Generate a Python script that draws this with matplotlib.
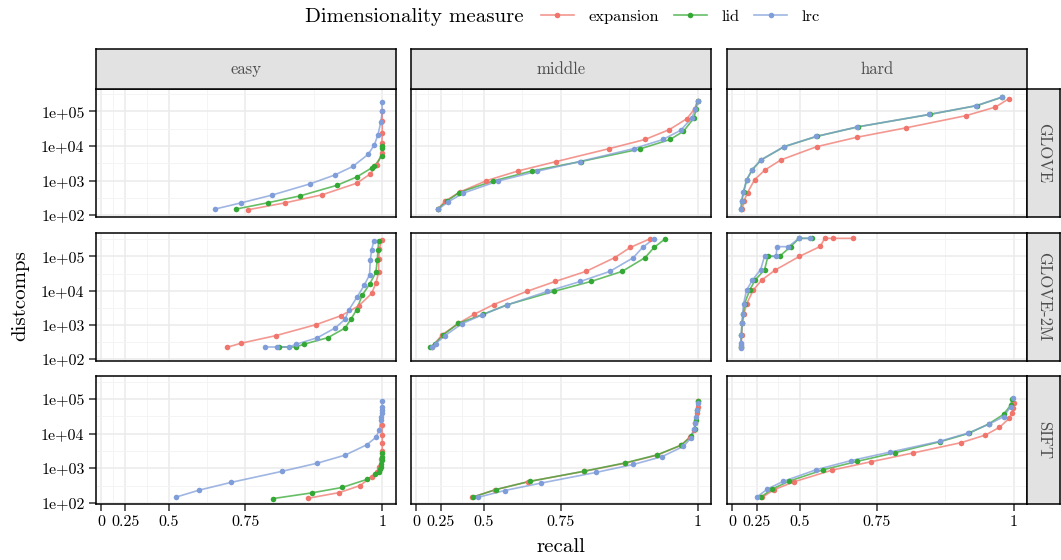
import numpy as np
import matplotlib.pyplot as plt
from matplotlib.lines import Line2D
from matplotlib.ticker import NullFormatter

plt.rcParams['font.family'] = ['cmr10', 'DejaVu Serif']
plt.rcParams['axes.formatter.use_mathtext'] = True

datasets = ['GLOVE', 'GLOVE-2M', 'SIFT']
difficulties = ['easy', 'middle', 'hard']
measures = ['expansion', 'lid', 'lrc']
colors = ['#F0756C', '#34A834', '#7F9DD9']

# (recall, distcomps) per dataset / difficulty / measure
glove_easy_expansion = ([0.757, 0.839, 0.907, 0.963, 0.983, 0.993, 0.9995, 0.9995, 1.0, 1.0, 1.0],
                        [145, 230, 390, 845, 1560, 2870, 6470, 12200, 23500, 54000, 103000])
glove_easy_lid = ([0.726, 0.802, 0.868, 0.932, 0.963, 0.985, 0.989, 0.999, 0.999, 1.0],
                  [151, 230, 365, 735, 1280, 2340, 2620, 5100, 8950, 10300])
glove_easy_lrc = ([0.667, 0.740, 0.811, 0.886, 0.928, 0.957, 0.980, 0.989, 0.994, 0.998, 1.0, 0.9995],
                  [151, 230, 383, 810, 1450, 2580, 5780, 10960, 21500, 50000, 100000, 186000])

glove_middle_expansion = ([0.228, 0.280, 0.378, 0.511, 0.628, 0.739, 0.856, 0.920, 0.959, 0.985, 0.996, 1.0],
                          [151, 251, 466, 1000, 1900, 3580, 8460, 15500, 30000, 62000, 120000, 206000])
glove_middle_lid = ([0.228, 0.297, 0.375, 0.539, 0.671, 0.797, 0.911, 0.960, 0.980, 0.995, 0.998, 1.0],
                    [151, 258, 455, 980, 1900, 3580, 8200, 15500, 26800, 65000, 117000, 206000])
glove_middle_lrc = ([0.233, 0.303, 0.398, 0.559, 0.686, 0.795, 0.901, 0.949, 0.976, 0.992, 0.997, 1.0],
                    [151, 241, 437, 980, 1860, 3580, 8460, 15500, 28700, 65000, 120000, 206000])

glove_hard_expansion = ([0.120, 0.138, 0.173, 0.234, 0.310, 0.407, 0.568, 0.698, 0.816, 0.928, 0.974, 0.993],
                        [151, 258, 455, 1070, 2030, 3980, 9600, 18000, 33500, 75500, 134000, 231000])
glove_hard_lid = ([0.108, 0.115, 0.133, 0.166, 0.214, 0.284, 0.425, 0.568, 0.700, 0.864, 0.946, 0.984],
                  [151, 258, 466, 1070, 2060, 3980, 9600, 19000, 35800, 82000, 148000, 259000])
glove_hard_lrc = ([0.106, 0.113, 0.131, 0.164, 0.212, 0.282, 0.423, 0.566, 0.699, 0.863, 0.945, 0.983],
                  [151, 258, 466, 1070, 2060, 3980, 9600, 19000, 35800, 82000, 148000, 259000])

glove2m_easy_expansion = ([0.702, 0.738, 0.819, 0.897, 0.939, 0.966, 0.985, 0.991, 0.995, 0.995, 0.996, 0.999],
                          [224, 293, 490, 1030, 1880, 3610, 8300, 16600, 34000, 85500, 167000, 293000])
glove2m_easy_lid = ([0.826, 0.860, 0.874, 0.917, 0.945, 0.954, 0.963, 0.971, 0.982, 0.991, 0.993, 0.994, 0.995],
                    [229, 229, 274, 427, 818, 1470, 2820, 7250, 15500, 34000, 78000, 156000, 287000])
glove2m_easy_lrc = ([0.795, 0.822, 0.846, 0.860, 0.899, 0.929, 0.945, 0.951, 0.964, 0.974, 0.982, 0.983, 0.985, 0.988],
                    [229, 229, 229, 274, 427, 818, 1470, 2750, 6760, 14200, 29000, 76000, 156000, 275000])

glove2m_middle_expansion = ([0.174, 0.260, 0.371, 0.455, 0.541, 0.656, 0.736, 0.808, 0.866, 0.895, 0.929],
                            [229, 513, 1120, 2050, 3950, 9500, 18600, 36500, 91500, 183000, 329000])
glove2m_middle_lid = ([0.159, 0.205, 0.269, 0.371, 0.497, 0.591, 0.732, 0.819, 0.880, 0.920, 0.935, 0.953],
                      [229, 287, 513, 1120, 2050, 3870, 9500, 18600, 36500, 91500, 183000, 329000])
glove2m_middle_lrc = ([0.181, 0.209, 0.283, 0.389, 0.491, 0.593, 0.715, 0.796, 0.857, 0.900, 0.916, 0.935],
                      [229, 287, 490, 1080, 1960, 3870, 9500, 18600, 36500, 91500, 183000, 329000])

glove2m_hard_expansion = ([0.110, 0.113, 0.120, 0.138, 0.164, 0.223, 0.287, 0.375, 0.498, 0.582, 0.597, 0.627, 0.686],
                          [224, 513, 1120, 2150, 4130, 10400, 20300, 39900, 100000, 196000, 336000, 336000, 336000])
glove2m_hard_lid = ([0.106, 0.110, 0.117, 0.131, 0.144, 0.191, 0.237, 0.308, 0.330, 0.400, 0.457, 0.497, 0.551],
                    [224, 513, 1120, 2150, 4220, 10200, 20300, 40700, 100000, 100000, 192000, 336000, 336000])
glove2m_hard_lrc = ([0.102, 0.102, 0.104, 0.110, 0.117, 0.124, 0.134, 0.164, 0.215, 0.280, 0.308, 0.381, 0.385,
                     0.446, 0.496, 0.544],
                    [209, 260, 308, 513, 1120, 2150, 4220, 10400, 20300, 40700, 102000, 102000, 192000,
                     192000, 336000, 336000])

sift_easy_expansion = ([0.883, 0.936, 0.968, 0.985, 0.992, 0.996, 0.998, 1.0, 1.0, 1.0, 1.0],
                       [138, 200, 318, 570, 795, 1100, 1810, 3150, 5250, 9100, 17700])
sift_easy_lid = ([0.813, 0.889, 0.940, 0.978, 0.990, 0.995, 0.997, 0.998, 0.998, 0.999, 1.0, 1.0],
                 [134, 196, 280, 478, 665, 795, 950, 1100, 1320, 1730, 2150, 2700])
sift_easy_lrc = ([0.530, 0.617, 0.712, 0.831, 0.899, 0.945, 0.978, 0.991, 0.996, 0.998, 0.998, 0.999, 0.999, 1.0, 1.0],
                 [147, 235, 391, 813, 1410, 2400, 4780, 7800, 12700, 24700, 30800, 38600, 48100, 60000, 85600])

sift_middle_expansion = ([0.445, 0.547, 0.659, 0.803, 0.886, 0.940, 0.976, 0.990, 0.995, 0.997, 0.999, 1.0, 1.0],
                         [147, 240, 408, 813, 1410, 2400, 4580, 8160, 12700, 19800, 38600, 60000, 85600])
sift_middle_lid = ([0.448, 0.550, 0.665, 0.804, 0.886, 0.940, 0.977, 0.991, 0.996, 0.998, 0.999, 1.0],
                   [147, 245, 420, 825, 1440, 2450, 4680, 8400, 13800, 24700, 48100, 85600])
sift_middle_lrc = ([0.475, 0.583, 0.697, 0.829, 0.900, 0.948, 0.980, 0.991, 0.995, 0.997, 0.998, 0.999, 1.0],
                   [147, 229, 373, 760, 1290, 2190, 4300, 7620, 13300, 19800, 30800, 48100, 74000])

sift_hard_expansion = ([0.292, 0.371, 0.473, 0.623, 0.736, 0.831, 0.920, 0.959, 0.980, 0.994, 0.998, 0.9996, 1.0],
                       [147, 245, 408, 890, 1550, 2760, 5480, 9100, 15200, 27600, 38600, 53700, 74700])
sift_hard_lid = ([0.282, 0.355, 0.450, 0.592, 0.699, 0.793, 0.884, 0.933, 0.964, 0.986, 0.996, 0.998],
                 [147, 251, 426, 908, 1590, 2820, 5870, 10200, 19000, 36000, 67000, 98000])
sift_hard_lrc = ([0.255, 0.326, 0.418, 0.566, 0.680, 0.782, 0.883, 0.932, 0.965, 0.986, 0.996, 0.999],
                 [151, 251, 417, 908, 1660, 2940, 6000, 10400, 19000, 30800, 60000, 104000])

panels = {
    ('GLOVE', 'easy'): [glove_easy_expansion, glove_easy_lid, glove_easy_lrc],
    ('GLOVE', 'middle'): [glove_middle_expansion, glove_middle_lid, glove_middle_lrc],
    ('GLOVE', 'hard'): [glove_hard_expansion, glove_hard_lid, glove_hard_lrc],
    ('GLOVE-2M', 'easy'): [glove2m_easy_expansion, glove2m_easy_lid, glove2m_easy_lrc],
    ('GLOVE-2M', 'middle'): [glove2m_middle_expansion, glove2m_middle_lid, glove2m_middle_lrc],
    ('GLOVE-2M', 'hard'): [glove2m_hard_expansion, glove2m_hard_lid, glove2m_hard_lrc],
    ('SIFT', 'easy'): [sift_easy_expansion, sift_easy_lid, sift_easy_lrc],
    ('SIFT', 'middle'): [sift_middle_expansion, sift_middle_lid, sift_middle_lrc],
    ('SIFT', 'hard'): [sift_hard_expansion, sift_hard_lid, sift_hard_lrc],
}

x_breaks = [0, 0.25, 0.5, 0.75, 1]
x_labels = ['0', '0.25', '0.5', '0.75', '1']
y_breaks = [1e2, 1e3, 1e4, 1e5]
y_labels = ['1e+02', '1e+03', '1e+04', '1e+05']

W, H = 1061, 560
fig = plt.figure(figsize=(W / 100, H / 100), dpi=100)

col_left = [95.7, 411.0, 727.0]
panel_w = 300.3
row_top = [89.0, 232.7, 375.7]
panel_h = 128.0
row_ylim = [(1.95, 5.65), (1.96, 5.69), (1.98, 5.67)]


def px_axes(left, top, width, height):
    return fig.add_axes([left / W, 1 - (top + height) / H, width / W, height / H])


def fwd(x):
    return 10.0 ** np.asarray(x, dtype=float)


def inv(t):
    return np.log10(np.maximum(np.asarray(t, dtype=float), 1e-12))


x_minor = [np.log10((10 ** a + 10 ** b) / 2) for a, b in zip(x_breaks[:-1], x_breaks[1:])]
y_minor = [10 ** 2.5, 10 ** 3.5, 10 ** 4.5, 10 ** 5.5]

for r, ds in enumerate(datasets):
    for c, diff in enumerate(difficulties):
        ax = px_axes(col_left[c], row_top[r], panel_w, panel_h)
        ax.set_xscale('function', functions=(fwd, inv))
        ax.set_yscale('log')
        for (rec, dc), col in zip(panels[(ds, diff)], colors):
            ax.plot(rec, dc, color=col, lw=1.2, alpha=0.75, zorder=3)
            ax.plot(rec, dc, 'o', color=col, ms=4.0, mew=0, zorder=4)
        ax.set_xticks(x_breaks)
        ax.set_xticklabels(x_labels)
        ax.set_xticks(x_minor, minor=True)
        ax.set_yticks(y_breaks)
        ax.set_yticklabels(y_labels)
        ax.set_yticks(y_minor, minor=True)
        ax.yaxis.set_minor_formatter(NullFormatter())
        ax.xaxis.set_minor_formatter(NullFormatter())
        ax.set_xlim(np.log10(0.83), np.log10(10.44))
        ax.set_ylim(10 ** row_ylim[r][0], 10 ** row_ylim[r][1])
        ax.set_axisbelow(True)
        ax.grid(True, which='major', color='#ebebeb', lw=1.1)
        ax.grid(True, which='minor', color='#f3f3f3', lw=0.6)
        ax.tick_params(which='minor', length=0)
        ax.tick_params(which='major', length=5, width=1.1, color='#333333', labelsize=11.5,
                       labelcolor='black', pad=3,
                       left=(c == 0), labelleft=(c == 0),
                       bottom=(r == 2), labelbottom=(r == 2))
        for sp in ax.spines.values():
            sp.set_color('black')
            sp.set_linewidth(1.1)

        if r == 0:
            st = px_axes(col_left[c], 49.0, panel_w, 40.0)
            st.set_facecolor('#e2e2e2')
            st.set_xticks([])
            st.set_yticks([])
            for sp in st.spines.values():
                sp.set_linewidth(1.1)
            st.text(0.5, 0.5, diff, ha='center', va='center', fontsize=12, color='#4d4d4d',
                    transform=st.transAxes)

    st = px_axes(1027.3, row_top[r], 33.0, panel_h)
    st.set_facecolor('#e2e2e2')
    st.set_xticks([])
    st.set_yticks([])
    for sp in st.spines.values():
        sp.set_linewidth(1.1)
    st.text(0.5, 0.5, ds, ha='center', va='center', fontsize=12, color='#4d4d4d',
            rotation=-90, transform=st.transAxes)

fig.text(20 / W, 1 - 296 / H, 'distcomps', rotation=90, ha='center', va='center', fontsize=15)
fig.text(561 / W, 1 - 547 / H, 'recall', ha='center', va='center', fontsize=15)

fig.text(305 / W, 1 - 17 / H, 'Dimensionality measure', ha='left', va='center', fontsize=15)
handles = [(Line2D([], [], color=col, lw=1.2, alpha=0.75),
            Line2D([], [], color=col, marker='o', ms=4.0, mew=0, lw=0))
           for col in colors]
fig.legend(handles, measures, loc='center left', bbox_to_anchor=(541 / W, 1 - 17 / H),
           ncol=3, frameon=False, fontsize=11.8, handlelength=2.0, handletextpad=0.9,
           columnspacing=0.9, borderpad=0, borderaxespad=0)

fig.savefig('out.png', dpi=100)
